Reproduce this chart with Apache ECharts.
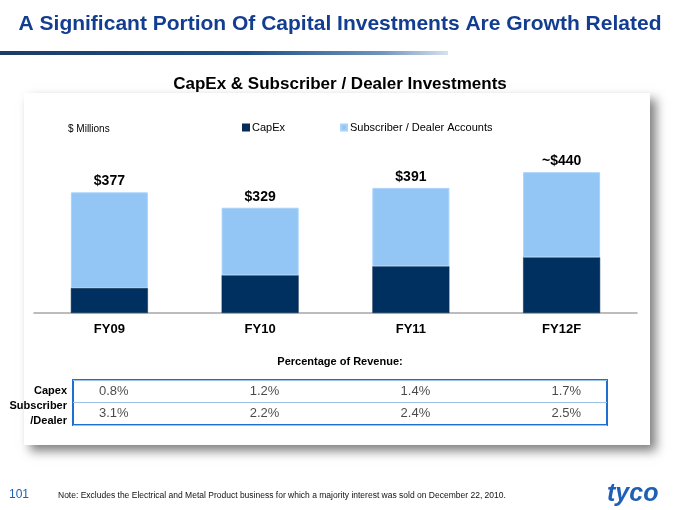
<!DOCTYPE html>
<html>
<head>
<meta charset="utf-8">
<script src="https://cdn.jsdelivr.net/npm/echarts@6/dist/echarts.min.js"></script>
<style>
html,body{margin:0;padding:0;background:#fff;}
#chart{width:680px;height:510px;}
</style>
</head>
<body>
<div id="chart"></div>
<script>
// ---- data ----
const categories = ['FY09', 'FY10', 'FY11', 'FY12F'];
const capex = [78, 118, 146, 174];
const subscriberDealer = [299, 211, 245, 266];
const totalPrefix = ['', '', '', '~'];
const rowLabels = ['Capex', 'Subscriber\n/Dealer'];
const capexPct = [0.8, 1.2, 1.4, 1.7];
const subscriberPct = [3.1, 2.2, 2.4, 2.5];

const FONT = '"Liberation Sans", Arial, sans-serif';
const NAVY = '#00305f';
const LIGHT = '#93c5f5';

const tableData = [];
capexPct.forEach((v, i) => tableData.push([i, 0, v]));
subscriberPct.forEach((v, i) => tableData.push([i, 1, v]));

const chart = echarts.init(document.getElementById('chart'), null, {renderer: 'canvas'});
chart.setOption({
  animation: false,
  backgroundColor: '#ffffff',
  textStyle: {fontFamily: FONT},
  graphic: [
    {type: 'rect', z: -10, shape: {x: 24, y: 93, width: 626, height: 352},
     style: {fill: '#ffffff', shadowBlur: 10, shadowColor: 'rgba(0,0,0,0.5)', shadowOffsetX: 6, shadowOffsetY: 6}},
    {type: 'rect', z: -5, shape: {x: 0, y: 51, width: 448, height: 4},
     style: {fill: new echarts.graphic.LinearGradient(0, 0, 1, 0, [
       {offset: 0, color: '#1c3c68'}, {offset: 0.55, color: '#1d4f86'}, {offset: 0.85, color: '#6f93bd'}, {offset: 1, color: '#d5e1ee'}])}},
    {type: 'text', left: 'center', top: 14,
     style: {text: 'A Significant Portion Of Capital Investments Are Growth Related', font: 'bold 21px ' + FONT, fill: '#123d90'}},
    {type: 'text', left: 'center', top: 76,
     style: {text: 'CapEx & Subscriber / Dealer Investments', font: 'bold 17px ' + FONT, fill: '#000'}},
    {type: 'text', left: 68, top: 124,
     style: {text: '$ Millions', font: '10px ' + FONT, fill: '#000'}},
    {type: 'text', left: 'center', top: 356,
     style: {text: 'Percentage of Revenue:', font: 'bold 11px ' + FONT, fill: '#000'}},
    {type: 'text', left: 9, top: 489,
     style: {text: '101', font: '12px ' + FONT, fill: '#1f5fb0'}},
    {type: 'text', left: 58, top: 491,
     style: {text: 'Note: Excludes the Electrical and Metal Product business for which a majority interest was sold on December 22, 2010.', font: '8.5px ' + FONT, fill: '#111'}},
    {type: 'text', left: 607, top: 482,
     style: {text: 'tyco', font: 'italic bold 25px ' + FONT, fill: '#1f5fb4'}}
  ],
  legend: {
    left: 237, top: 117,
    itemWidth: 6, itemHeight: 6, itemGap: 55,
    icon: 'rect',
    textStyle: {fontFamily: FONT, fontSize: 11, color: '#000', padding: [0, 0, 0, -2]},
    data: ['CapEx', 'Subscriber / Dealer Accounts']
  },
  grid: [
    {left: 34, right: 43, top: 153, height: 160},
    {left: 73, right: 73, top: 380, height: 45, show: true, borderColor: '#1f6fd1', borderWidth: 2, backgroundColor: 'transparent'}
  ],
  xAxis: [
    {type: 'category', gridIndex: 0, data: categories,
     axisLine: {lineStyle: {color: '#a6a6a6', width: 1.5}},
     axisTick: {show: false},
     axisLabel: {fontFamily: FONT, fontSize: 13, fontWeight: 'bold', color: '#000', margin: 10}},
    {type: 'value', gridIndex: 1, min: -0.27, max: 3.27, show: false}
  ],
  yAxis: [
    {type: 'value', gridIndex: 0, min: 0, max: 500, show: false},
    {type: 'category', gridIndex: 1, data: rowLabels, inverse: true,
     axisLine: {show: false}, axisTick: {show: false},
     splitLine: {show: true, lineStyle: {color: '#9cc2ea', width: 1}},
     axisLabel: {fontFamily: FONT, fontSize: 11, fontWeight: 'bold', color: '#000', margin: 6, lineHeight: 15, align: 'right'}}
  ],
  series: [
    {name: 'CapEx', type: 'bar', stack: 'tot', xAxisIndex: 0, yAxisIndex: 0, barWidth: 77,
     data: capex, itemStyle: {color: NAVY, borderColor: '#0a2a50', borderWidth: 0.5}},
    {name: 'Subscriber / Dealer Accounts', type: 'bar', stack: 'tot', xAxisIndex: 0, yAxisIndex: 0, barWidth: 77,
     data: subscriberDealer, itemStyle: {color: LIGHT, borderColor: '#a9d2fa', borderWidth: 1},
     label: {show: true, position: 'top', distance: 4, fontFamily: FONT, fontSize: 14, fontWeight: 'bold', color: '#000',
       formatter: p => totalPrefix[p.dataIndex] + '$' + (capex[p.dataIndex] + subscriberDealer[p.dataIndex])}},
    {type: 'scatter', xAxisIndex: 1, yAxisIndex: 1, symbolSize: 0, data: tableData,
     label: {show: true, position: 'inside', fontFamily: FONT, fontSize: 13, color: '#1a1a1a',
       formatter: p => p.value[2].toFixed(1) + '%'}}
  ]
});
</script>
</body>
</html>
